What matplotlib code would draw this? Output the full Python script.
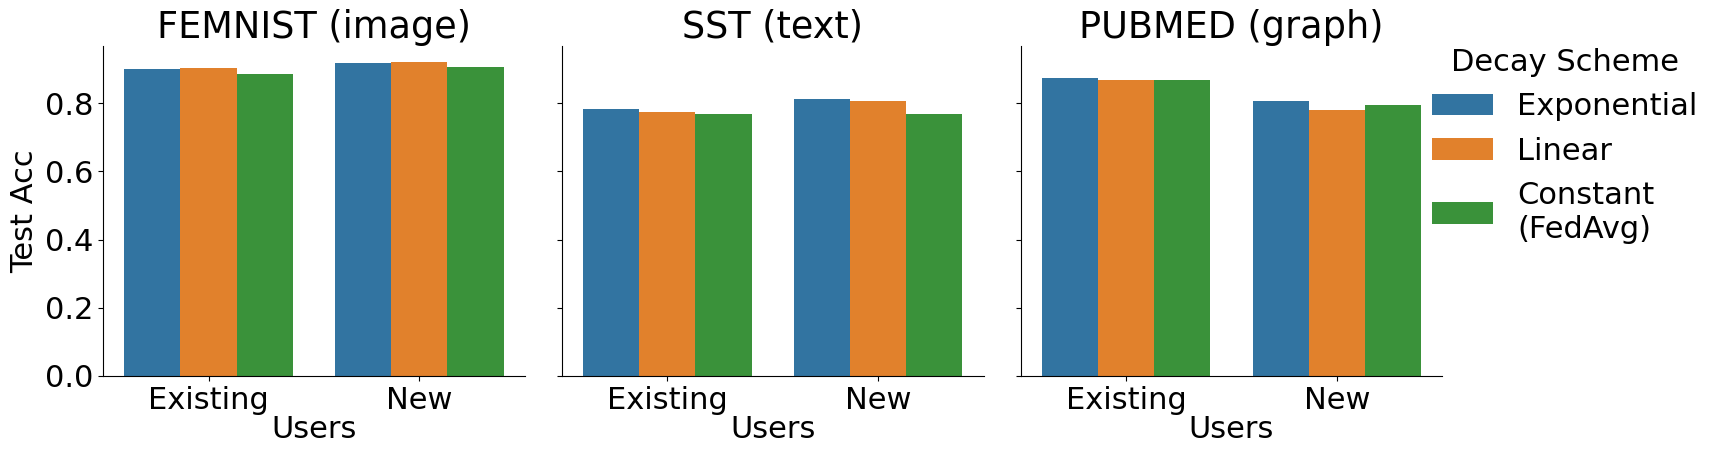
import numpy as np
import matplotlib
matplotlib.use("Agg")
import matplotlib.pyplot as plt

datasets = ["FEMNIST (image)", "SST (text)", "PUBMED (graph)"]
users = ["Existing", "New"]
schemes = ["Exponential", "Linear", "Constant\n(FedAvg)"]
colors = ["#3274a1", "#e1812c", "#3a923a"]

# accuracy[dataset][scheme] -> [Existing, New]
exponential = [[0.900, 0.917], [0.783, 0.812], [0.874, 0.807]]
linear = [[0.903, 0.920], [0.774, 0.807], [0.868, 0.780]]
constant = [[0.885, 0.905], [0.768, 0.768], [0.868, 0.795]]
values = [exponential, linear, constant]

plt.rcParams["font.size"] = 22

fig, axes = plt.subplots(1, 3, figsize=(17.19, 4.59), dpi=100, sharey=True)
fig.subplots_adjust(left=0.06, right=0.839, bottom=0.181, top=0.9, wspace=0.088)

x = np.arange(len(users))
width = 0.8 / len(schemes)
for d, ax in enumerate(axes):
    for s, scheme in enumerate(schemes):
        offset = (s - 1) * width
        ax.bar(x + offset, values[s][d], width=width, color=colors[s],
               label=scheme)
    ax.set_title(datasets[d], fontsize=26.4)
    ax.set_xticks(x)
    ax.set_xticklabels(users)
    ax.set_xlim(-0.5, 1.5)
    ax.set_xlabel("Users", labelpad=0)
    ax.spines["top"].set_visible(False)
    ax.spines["right"].set_visible(False)
    ax.tick_params(labelsize=22)

axes[0].set_ylim(0, 0.968)
axes[0].set_yticks([0.0, 0.2, 0.4, 0.6, 0.8])
axes[0].set_ylabel("Test Acc")

handles, labels = axes[0].get_legend_handles_labels()
fig.legend(handles, labels, title="Decay Scheme", loc="upper left",
           bbox_to_anchor=(0.817, 0.955), frameon=False, fontsize=22,
           title_fontsize=22)

fig.savefig("out.png")
